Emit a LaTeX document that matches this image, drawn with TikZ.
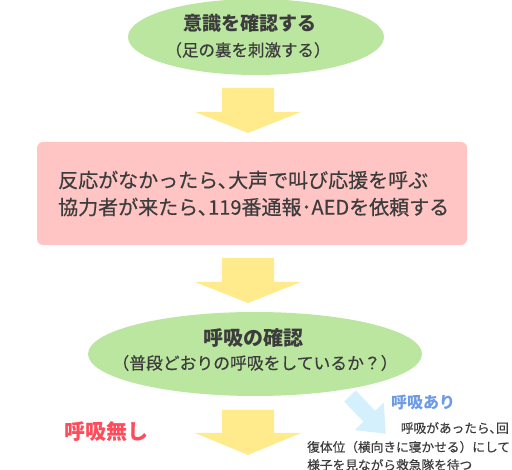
\documentclass[tikz,border=0pt]{standalone}
\usepackage{fontspec}
\setmainfont{Noto Sans CJK JP}
\newfontfamily\medfont{Noto Sans CJK JP}[FakeBold=0.4]
\definecolor{bubblegreen}{RGB}{186,230,160}
\definecolor{boxpink}{RGB}{255,196,196}
\definecolor{arrowyellow}{RGB}{255,234,140}
\definecolor{arrowblue}{RGB}{212,240,252}
\definecolor{inkgray}{RGB}{60,60,60}
\definecolor{alertred}{RGB}{255,75,90}
\definecolor{calmblue}{RGB}{110,155,230}

\begin{document}
\begin{tikzpicture}[x=1pt, y=-1pt,
    bubble/.style={fill=bubblegreen},
    downarrow/.style={fill=arrowyellow},
    headtext/.style={inkgray, inner sep=0pt, font=\fontsize{19}{22}\selectfont\bfseries},
    subtext/.style={inkgray, inner sep=0pt, font=\medfont\fontsize{16.5}{20}\selectfont},
    notetext/.style={inkgray, inner sep=0pt, font=\medfont\fontsize{12.7}{15}\selectfont}]

    % Fix the page to the size of the reference
    \useasboundingbox (0,0) rectangle (512,470);

    % Define the top corners of the three yellow arrows
    \coordinate (arrA) at (248,88);
    \coordinate (arrB) at (248,258);
    \coordinate (arrC) at (248,410);

    % Draw the first bubble: check consciousness
    \fill[bubble] (256,37) ellipse (128 and 38);
    \node[headtext] (checkhead) at (250,23) {意識を確認する};
    \node[subtext] (checksub) at (248,50) {（足の裏を刺激する）};

    % Draw the first yellow arrow
    \fill[downarrow] (arrA) ++(-26,0) -- ++(0,24) -- ++(-27,0) -- ++(53,21)
        -- ++(53,-21) -- ++(-27,0) -- ++(0,-24) -- cycle;

    % Draw the pink box with the call for help
    \fill[boxpink, rounded corners=6pt] (37,142) rectangle (467,245);
    \node[inkgray, inner sep=0pt, anchor=west, align=left,
        font=\medfont\fontsize{20}{27}\selectfont] (callhelp) at (58,193.5)
        {反応がなかったら､大声で叫び応援を呼ぶ\\協力者が来たら､119番通報･AEDを依頼する};

    % Draw the second yellow arrow
    \fill[downarrow] (arrB) ++(-26,0) -- ++(0,24) -- ++(-27,0) -- ++(53,21)
        -- ++(53,-21) -- ++(-27,0) -- ++(0,-24) -- cycle;

    % Draw the second bubble: check breathing
    \fill[bubble] (255,354) ellipse (167 and 42);
    \node[headtext, font=\fontsize{20}{22}\selectfont\bfseries] (breathhead) at (253,338) {呼吸の確認};
    \node[subtext, font=\medfont\fontsize{16.8}{20}\selectfont] (breathsub) at (255,363) {（普段どおりの呼吸をしているか？）};

    % Draw the third yellow arrow (no breathing)
    \fill[downarrow] (arrC) ++(-26,0) -- ++(0,23) -- ++(-27,0) -- ++(53,22)
        -- ++(53,-22) -- ++(-27,0) -- ++(0,-23) -- cycle;
    \node[alertred, inner sep=0pt, font=\fontsize{21}{24}\selectfont\bfseries]
        (nobreath) at (106,432) {呼吸無し};

    % Draw the light blue arrow (breathing)
    \begin{scope}[shift={(350,396)}, rotate=-46.5]
        \fill[arrowblue] (0,-8) -- (28,-8) -- (28,-20) -- (52,0)
            -- (28,20) -- (28,8) -- (0,8) -- cycle;
    \end{scope}
    \node[calmblue, inner sep=0pt, font=\fontsize{16}{20}\selectfont\bfseries]
        (yesbreath) at (423,402) {呼吸あり};

    % Add the note for the recovery position
    \node[notetext, anchor=east] (noteA) at (509,428) {呼吸があったら､回};
    \node[notetext, anchor=west] (noteB) at (307,447) {復体位（横向きに寝かせる）にして};
    \node[notetext, anchor=west] (noteC) at (307,465) {様子を見ながら救急隊を待つ};

\end{tikzpicture}
\end{document}
